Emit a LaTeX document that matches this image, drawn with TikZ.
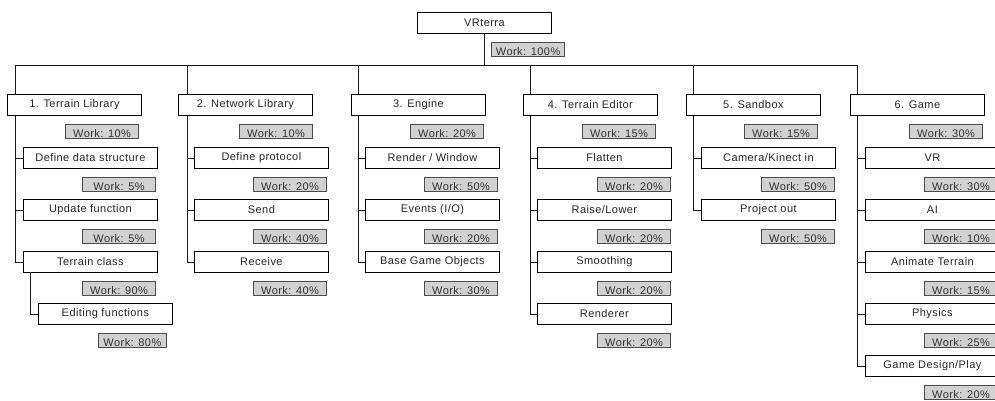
\documentclass[tikz,border=0pt]{standalone}
\usepackage{fontspec}
\setmainfont{Liberation Sans}
\newcommand\wbsfont{\fontsize{11}{13}\selectfont\addfontfeatures{LetterSpace=4}}
\begin{document}
\begin{tikzpicture}[x=1pt,y=-1pt]
\tikzset{
 box/.style={draw=black, line width=0.8pt, fill=white, minimum width=134pt, minimum height=21pt, inner sep=0pt, font=\wbsfont, text=black!85},
 work/.style={draw=black!70, line width=0.8pt, fill=black!18, minimum width=73pt, minimum height=14pt, inner sep=0pt},
 worktext/.style={anchor=base, inner sep=0pt, font=\wbsfont, text=black!80},
 conn/.style={line width=0.8pt, black!90}
}
\newcommand\wbsbox[4]{\node[box, anchor=north west] (#1) at (#2,#3) {#4};}
\newcommand\wbswork[4]{\node[work, anchor=north east] (#1) at (#2,#3) {};
 \node[worktext] (#1t) at ([yshift=1pt]#1.south) {Work: #4\%};}
\useasboundingbox (0,0) rectangle (995,401);
\fill[white] (0,0) rectangle (995,401);

% root
\wbsbox{root}{417}{12}{VRterra}
\wbswork{w0}{565}{42}{100}
\coordinate (bus) at (15,65);
\coordinate (busend) at (857,65);
\coordinate (tick) at (530,65);
\draw[conn] (root.south) -- (root.south |- bus);
\draw[conn] (bus) -- (busend);
\draw[conn] (tick) -- ++(0,5);

% spine coordinates
\coordinate (s1) at (15,65);
\coordinate (s2) at (187,65);
\coordinate (s3) at (358,65);
\coordinate (s4) at (530,65);
\coordinate (s5) at (693,65);
\coordinate (s6) at (857,65);

% level 1
\wbsbox{t1}{7}{94}{1. Terrain Library}
\wbsbox{t2}{178}{94}{2. Network Library}
\wbsbox{t3}{351}{94}{3. Engine}
\wbsbox{t4}{523}{94}{4. Terrain Editor}
\wbsbox{t5}{686}{94}{5. Sandbox}
\wbsbox{t6}{850}{94}{6. Game}
\wbswork{w1}{139}{124}{10}
\wbswork{w2}{313}{124}{10}
\wbswork{w3}{484}{124}{20}
\wbswork{w4}{656}{124}{15}
\wbswork{w5}{818}{124}{15}
\wbswork{w6}{983}{124}{30}
\foreach \i in {1,...,6} { \draw[conn] (s\i) -- (s\i |- t\i.north); }

% column 1
\wbsbox{c11}{23}{147}{Define data structure}
\wbsbox{c12}{23}{199}{Update function}
\wbsbox{c13}{23}{251}{Terrain class}
\wbsbox{c131}{38}{303}{Editing functions}
\wbswork{w11}{156}{177}{5}
\wbswork{w12}{156}{229}{5}
\wbswork{w13}{156}{281}{90}
\node[work, anchor=north west, minimum width=68pt] (w131) at (98,333) {};
\node[worktext] (w131t) at ([yshift=1pt]w131.south) {Work: 80\%};
\coordinate (s13) at (30,271);
\draw[conn] (s1 |- t1.south) -- (s1 |- c13.west);
\foreach \c in {c11,c12,c13} { \draw[conn] (s1 |- \c.west) -- (\c.west); }
\draw[conn] (s13 |- c13.south) |- (c131.west);

% column 2
\wbsbox{c21}{194}{147}{Define protocol}
\wbsbox{c22}{194}{199}{Send}
\wbsbox{c23}{194}{251}{Receive}
\wbswork{w21}{327}{177}{20}
\wbswork{w22}{327}{229}{40}
\wbswork{w23}{327}{281}{40}
\draw[conn] (s2 |- t2.south) -- (s2 |- c23.west);
\foreach \c in {c21,c22,c23} { \draw[conn] (s2 |- \c.west) -- (\c.west); }

% column 3
\wbsbox{c31}{365}{147}{Render / Window}
\wbsbox{c32}{365}{199}{Events (I/O)}
\wbsbox{c33}{365}{251}{Base Game Objects}
\wbswork{w31}{498}{177}{50}
\wbswork{w32}{498}{229}{20}
\wbswork{w33}{498}{281}{30}
\draw[conn] (s3 |- t3.south) -- (s3 |- c33.west);
\foreach \c in {c31,c32,c33} { \draw[conn] (s3 |- \c.west) -- (\c.west); }

% column 4
\wbsbox{c41}{537}{147}{Flatten}
\wbsbox{c42}{537}{199}{Raise/Lower}
\wbsbox{c43}{537}{251}{Smoothing}
\wbsbox{c44}{537}{303}{Renderer}
\wbswork{w41}{671}{177}{20}
\wbswork{w42}{671}{229}{20}
\wbswork{w43}{671}{281}{20}
\wbswork{w44}{671}{333}{20}
\draw[conn] (s4 |- t4.south) -- (s4 |- c44.west);
\foreach \c in {c41,c42,c43,c44} { \draw[conn] (s4 |- \c.west) -- (\c.west); }

% column 5
\wbsbox{c51}{701}{147}{Camera/Kinect in}
\wbsbox{c52}{701}{199}{Project out}
\wbswork{w51}{835}{177}{50}
\wbswork{w52}{835}{229}{50}
\draw[conn] (s5 |- t5.south) -- (s5 |- c52.west);
\foreach \c in {c51,c52} { \draw[conn] (s5 |- \c.west) -- (\c.west); }

% column 6
\wbsbox{c61}{865}{147}{VR}
\wbsbox{c62}{865}{199}{AI}
\wbsbox{c63}{865}{251}{Animate Terrain}
\wbsbox{c64}{865}{303}{Physics}
\wbsbox{c65}{865}{355}{Game Design/Play}
\wbswork{w61}{998}{177}{30}
\wbswork{w62}{998}{229}{10}
\wbswork{w63}{998}{281}{15}
\wbswork{w64}{998}{333}{25}
\wbswork{w65}{998}{385}{20}
\draw[conn] (s6 |- t6.south) -- (s6 |- c65.west);
\foreach \c in {c61,c62,c63,c64,c65} { \draw[conn] (s6 |- \c.west) -- (\c.west); }
\end{tikzpicture}
\end{document}
